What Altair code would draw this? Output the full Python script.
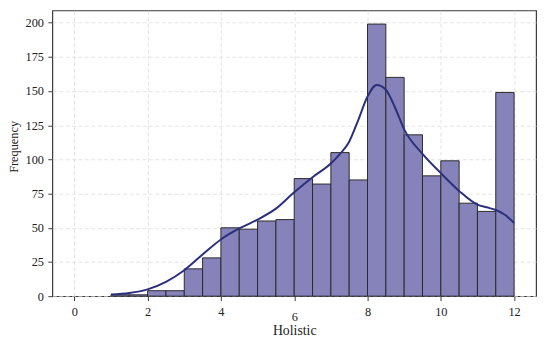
import altair as alt
import pandas as pd

bin_start = [1.0, 1.5, 2.0, 2.5, 3.0, 3.5, 4.0, 4.5, 5.0, 5.5, 6.0, 6.5, 7.0, 7.5,
             8.0, 8.5, 9.0, 9.5, 10.0, 10.5, 11.0, 11.5]
counts = [1, 1, 4, 4, 20, 28, 50, 49, 55, 56, 86, 82, 105, 85,
          199, 160, 118, 88, 99, 68, 62, 149]
bin_width = 0.5

kde_x = [1.0, 1.5, 2.0, 2.5, 3.0, 3.5, 4.0, 4.5, 5.0, 5.5, 6.0, 6.5, 7.0, 7.25, 7.5, 7.75,
         8.0, 8.25, 8.5, 8.75, 9.0, 9.5, 10.0, 10.5, 11.0, 11.25, 11.5, 11.75, 12.0]
kde_y = [1.2, 2.3, 5.0, 10.5, 19, 30.5, 41.5, 49.5, 56, 64, 76, 87, 97, 104, 113, 129,
         146, 154.5, 151, 138, 122, 104, 90, 77, 67, 65, 63, 59.5, 53.5]

x_ticks = [0, 2, 4, 6, 8, 10, 12]
y_ticks = [0, 25, 50, 75, 100, 125, 150, 175, 200]

bars = pd.DataFrame({
    "start": bin_start,
    "end": [b + bin_width for b in bin_start],
    "count": counts,
})
kde = pd.DataFrame({"x": kde_x, "y": kde_y})

FONT = "Liberation Serif"
xscale = alt.Scale(domain=[-0.6, 12.6], nice=False, zero=False)
yscale = alt.Scale(domain=[0, 208.95], nice=False)


def make_xaxis():
    return alt.Axis(
        values=x_ticks, title="Holistic", grid=True, domain=False, labelOverlap=False,
        labelFont=FONT, labelFontSize=12.5, labelColor="#222", labelPadding=5,
        labelExpr="datum.value == 6 ? ['', datum.label] : datum.label",
        labelLineHeight=5.5, labelBaseline="top",
        tickSize=4.5, tickColor="#3a3a3a", tickWidth=1,
        gridColor="#dddddd", gridDash=[4, 2.5], gridWidth=0.8,
        titleFont=FONT, titleFontSize=14, titleFontWeight="normal", titleColor="#222",
        titleBaseline="middle", titleY=35,
    )


def make_yaxis():
    return alt.Axis(
        values=y_ticks, title="Frequency", grid=True, domain=False, labelOverlap=False,
        labelFont=FONT, labelFontSize=12.5, labelColor="#222", labelPadding=4.5,
        tickSize=4.5, tickColor="#3a3a3a", tickWidth=1,
        gridColor="#dddddd", gridDash=[4, 2.5], gridWidth=0.8,
        titleFont=FONT, titleFontSize=12.5, titleFontWeight="normal", titleColor="#222",
        titleBaseline="middle", titleAngle=-90, titleX=-39.5, titleY=138,
    )


hist = alt.Chart(bars).mark_bar(
    fill="#8682ba", stroke="#2b2b2b", strokeWidth=1
).encode(
    x=alt.X("start:Q", scale=xscale, axis=make_xaxis()),
    x2="end:Q",
    y=alt.Y("count:Q", scale=yscale, axis=make_yaxis()),
    y2=alt.datum(0),
)

line = alt.Chart(kde).mark_line(
    color="#2c2f7c", strokeWidth=2, interpolate="monotone"
).encode(
    x=alt.X("x:Q", scale=xscale, axis=make_xaxis()),
    y=alt.Y("y:Q", scale=yscale, axis=make_yaxis()),
)

chart = alt.layer(hist, line).properties(
    width=491, height=290,
    autosize=alt.AutoSizeParams(type="none"),
    padding={"left": 45, "top": 0, "right": 6, "bottom": 43},
).configure_axis(
    labelOverlap=False
).configure_view(
    stroke="#3a3a3a", strokeWidth=1.2
)

chart.save("out.html", embed_options={"renderer": "svg", "actions": False})
